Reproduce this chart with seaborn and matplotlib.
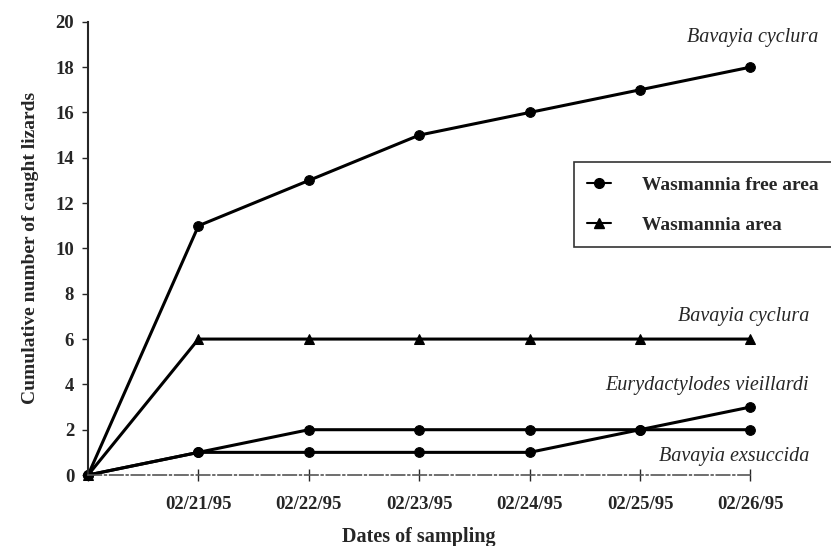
import numpy as np
import pandas as pd
import matplotlib.pyplot as plt
import seaborn as sns
from matplotlib.lines import Line2D

# sampling dates (first point is the start, no label)
dates = ["", "02/21/95", "02/22/95", "02/23/95", "02/24/95", "02/25/95", "02/26/95"]

# cumulative number of caught lizards
cyclura_free = [0, 11, 13, 15, 16, 17, 18]
cyclura_wasm = [0, 6, 6, 6, 6, 6, 6]
eury_free = [0, 1, 1, 1, 1, 2, 3]
exsu_free = [0, 1, 2, 2, 2, 2, 2]

sns.set_style("ticks")
plt.rcParams['font.family'] = ['Liberation Serif', 'DejaVu Serif']
plt.rcParams['font.weight'] = 'bold'

fig = plt.figure(figsize=(8.31, 5.46), dpi=100)
ax = fig.add_axes([0.106, 0.130, 0.797, 0.830])

pos = np.arange(len(dates))
series = [
    (cyclura_free, 'o'),
    (cyclura_wasm, '^'),
    (eury_free, 'o'),
    (exsu_free, 'o'),
]
for vals, mk in series:
    df = pd.DataFrame({'x': pos, 'y': vals})
    sns.lineplot(data=df, x='x', y='y', ax=ax, color='black', linewidth=2.2,
                 marker=mk, markersize=7, markeredgecolor='black', clip_on=False)

ax.set_xlim(0, 6)
ax.set_ylim(0, 20)
ax.set_yticks(range(0, 21, 2))
ax.set_xticks(pos)
ax.set_xticklabels(dates)
ax.tick_params(axis='y', direction='out', length=4, width=1, labelsize=13.5, pad=6)
ax.tick_params(axis='x', direction='inout', length=8, width=1, labelsize=13.5, pad=11)
for lab in ax.get_xticklabels() + ax.get_yticklabels():
    lab.set_fontweight('bold')

sns.despine(ax=ax)
ax.spines['left'].set_linewidth(1.5)
ax.spines['bottom'].set_linestyle((0, (8, 2, 1, 2)))
ax.spines['bottom'].set_color('#555555')
ax.spines['bottom'].set_linewidth(1.2)

ax.set_xlabel('Dates of sampling', fontsize=14.5, fontweight='bold', labelpad=10)
ax.set_ylabel('Cumulative number of caught lizards', fontsize=14, fontweight='bold', labelpad=12)

# species labels
lab_kw = dict(fontsize=14.5, style='italic', fontweight='normal', ha='right', va='center',
              transform=ax.transData, clip_on=False)
ax.text(6.62, 19.3, 'Bavayia cyclura', **lab_kw)
ax.text(6.53, 7.0, 'Bavayia cyclura', **lab_kw)
ax.text(6.53, 3.95, 'Eurydactylodes vieillardi', **lab_kw)
ax.text(6.53, 0.8, 'Bavayia exsuccida', **lab_kw)

handles = [
    Line2D([], [], color='black', marker='o', linestyle='-', linewidth=1.5, markersize=7),
    Line2D([], [], color='black', marker='^', linestyle='-', linewidth=1.5, markersize=7),
]
leg = ax.legend(handles, ['Wasmannia free area', 'Wasmannia area'], loc='upper left',
                bbox_to_anchor=(0.733, 0.69), frameon=True, fancybox=False,
                edgecolor='black', handlelength=1.2, handletextpad=1.6,
                borderpad=0.7, labelspacing=1.15, borderaxespad=0,
                prop={'size': 14, 'weight': 'bold'})
leg.get_frame().set_linewidth(1.2)

fig.savefig('out.png', dpi=100)
